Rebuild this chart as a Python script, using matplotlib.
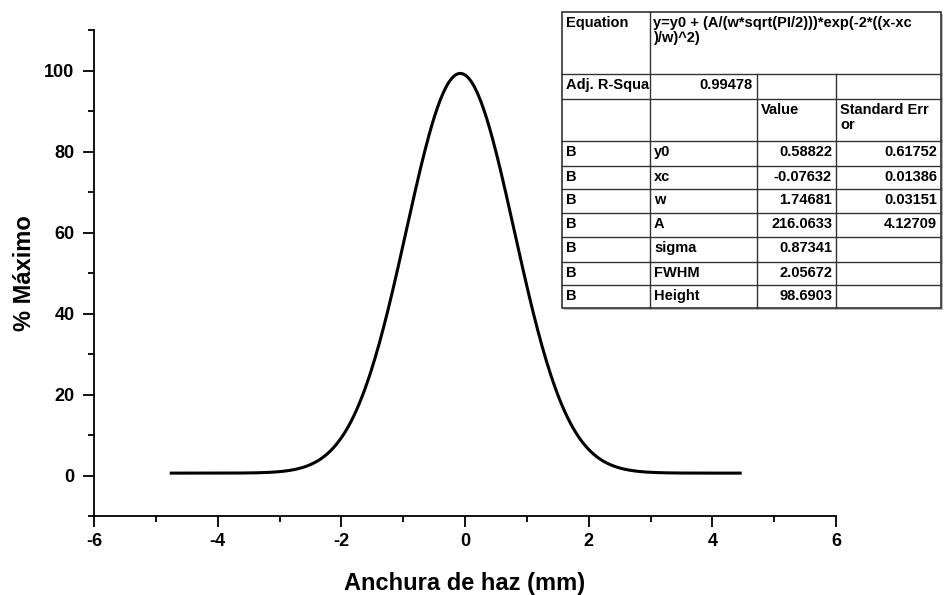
import numpy as np
import matplotlib
matplotlib.use('Agg')
import matplotlib.pyplot as plt
from matplotlib.ticker import MultipleLocator

plt.rcParams['font.family'] = ['Liberation Sans', 'DejaVu Sans']
plt.rcParams['font.weight'] = 'bold'
plt.rcParams['axes.unicode_minus'] = False

# fit results (Gauss)
y0 = 0.58822
xc = -0.07632
w = 1.74681
A = 216.0633
x_start, x_end = -4.75, 4.45

param_names = ['y0', 'xc', 'w', 'A', 'sigma', 'FWHM', 'Height']
param_values = ['0.58822', '-0.07632', '1.74681', '216.0633', '0.87341', '2.05672', '98.6903']
param_errors = ['0.61752', '0.01386', '0.03151', '4.12709', '', '', '']
adj_r2 = '0.99478'
equation = ['y=y0 + (A/(w*sqrt(PI/2)))*exp(-2*((x-xc', ')/w)^2)']

x = np.linspace(x_start, x_end, 400)
y = y0 + (A / (w * np.sqrt(np.pi / 2))) * np.exp(-2 * ((x - xc) / w) ** 2)

fig = plt.figure(figsize=(9.44, 5.95), dpi=100)
ax = fig.add_axes([94 / 944, 1 - 516 / 595, (836 - 94) / 944, (516 - 30) / 595])
ax.plot(x, y, color='black', lw=2.2)

ax.set_xlim(-6, 6)
ax.set_ylim(-10, 110)
ax.xaxis.set_major_locator(MultipleLocator(2))
ax.xaxis.set_minor_locator(MultipleLocator(1))
ax.yaxis.set_major_locator(MultipleLocator(20))
ax.yaxis.set_minor_locator(MultipleLocator(10))
ax.spines['top'].set_visible(False)
ax.spines['right'].set_visible(False)
for s in ['left', 'bottom']:
    ax.spines[s].set_linewidth(1.3)
ax.tick_params(which='major', direction='out', length=8, width=1.3, labelsize=13, pad=4)
ax.tick_params(axis='y', which='major', pad=6)
ax.tick_params(which='minor', direction='out', length=4.5, width=1.3)
for lab in ax.get_xticklabels() + ax.get_yticklabels():
    lab.set_fontweight('bold')
ax.set_xlabel('Anchura de haz (mm)', fontsize=17, fontweight='bold', labelpad=16)
ax.set_ylabel('% Máximo', fontsize=17, fontweight='bold', labelpad=6)

# results table, laid out in pixel units
tab = fig.add_axes([0, 0, 1, 1], facecolor='none')
tab.set_xlim(0, 944)
tab.set_ylim(595, 0)
tab.axis('off')

cols = [562, 650, 757, 836, 941]
rows = [12, 74, 99, 141, 166, 189, 213, 237, 262, 285, 308]
lc = '#333333'
tab.add_patch(plt.Rectangle((cols[0] + 2, rows[0] + 2), cols[-1] - cols[0], rows[-1] - rows[0],
                            facecolor='#bbbbbb', edgecolor='none', zorder=0))
tab.add_patch(plt.Rectangle((cols[0], rows[0]), cols[-1] - cols[0], rows[-1] - rows[0],
                            facecolor='white', edgecolor=lc, lw=1.2, zorder=1))
for r in rows[1:-1]:
    tab.plot([cols[0], cols[-1]], [r, r], color=lc, lw=1.0, zorder=2)
tab.plot([cols[1], cols[1]], [rows[0], rows[-1]], color=lc, lw=1.0, zorder=2)
for c in cols[2:4]:
    tab.plot([c, c], [rows[1], rows[-1]], color=lc, lw=1.0, zorder=2)

fs = 10.5
kw = dict(fontsize=fs, fontweight='bold', va='top', zorder=3)
tab.text(cols[0] + 4, rows[0] + 4, 'Equation', ha='left', **kw)
tab.text(cols[1] + 3, rows[0] + 4, '\n'.join(equation), ha='left', linespacing=1.05, **kw)
tab.text(cols[0] + 4, rows[1] + 4, 'Adj. R-Squa', ha='left', **kw)
tab.text(cols[2] - 4, rows[1] + 4, adj_r2, ha='right', **kw)
tab.text(cols[2] + 4, rows[2] + 4, 'Value', ha='left', **kw)
tab.text(cols[3] + 4, rows[2] + 4, 'Standard Err\nor', ha='left', linespacing=1.05, **kw)
for i, (n, v, e) in enumerate(zip(param_names, param_values, param_errors)):
    top = rows[3 + i] + 4
    tab.text(cols[0] + 4, top, 'B', ha='left', **kw)
    tab.text(cols[1] + 4, top, n, ha='left', **kw)
    tab.text(cols[3] - 4, top, v, ha='right', **kw)
    if e:
        tab.text(cols[4] - 4, top, e, ha='right', **kw)

fig.savefig('out.png', dpi=100)
